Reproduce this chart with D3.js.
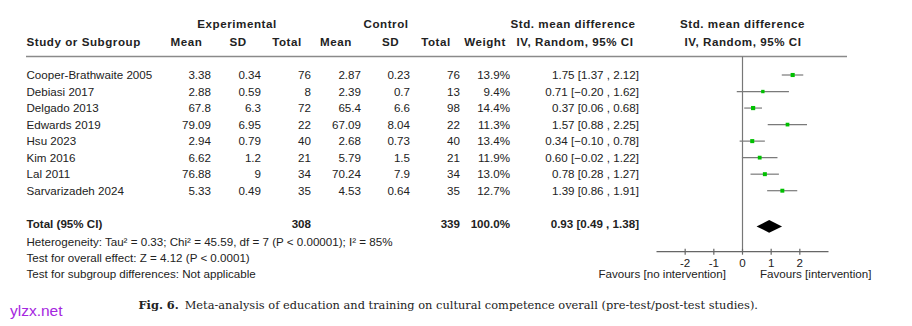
<!DOCTYPE html>
<html>
<head>
<meta charset="utf-8">
<script src="https://cdn.jsdelivr.net/npm/d3@7"></script>
<style>
html,body{margin:0;padding:0;background:#fff;}
svg{display:block;}
text{font-family:"Liberation Sans",Arial,sans-serif;font-size:11.6px;fill:#222;}
.b{font-weight:bold;}
.h{font-weight:bold;letter-spacing:0.55px;}
</style>
</head>
<body>
<svg id="c" width="912" height="326"></svg>
<script>
const studies = ["Cooper-Brathwaite 2005","Debiasi 2017","Delgado 2013","Edwards 2019","Hsu 2023","Kim 2016","Lal 2011","Sarvarizadeh 2024"];
const expMean = ["3.38","2.88","67.8","79.09","2.94","6.62","76.88","5.33"];
const expSD   = ["0.34","0.59","6.3","6.95","0.79","1.2","9","0.49"];
const expN    = [76,8,72,22,40,21,34,35];
const ctlMean = ["2.87","2.39","65.4","67.09","2.68","5.79","70.24","4.53"];
const ctlSD   = ["0.23","0.7","6.6","8.04","0.73","1.5","7.9","0.64"];
const ctlN    = [76,13,98,22,40,21,34,35];
const weights = [13.9,9.4,14.4,11.3,13.4,11.9,13.0,12.7];
const smd     = [1.75,0.71,0.37,1.57,0.34,0.60,0.78,1.39];
const ciLo    = [1.37,-0.20,0.06,0.88,-0.10,-0.02,0.28,0.86];
const ciHi    = [2.12,1.62,0.68,2.25,0.78,1.22,1.27,1.91];
const total   = {expN:308, ctlN:339, weight:"100.0%", est:0.93, lo:0.49, hi:1.38};
const axisTicks = [-2,-1,0,1,2];
const axisDomain = [-3,3];
const footLines = [
  "Heterogeneity: Tau\u00B2 = 0.33; Chi\u00B2 = 45.59, df = 7 (P < 0.00001); I\u00B2 = 85%",
  "Test for overall effect: Z = 4.12 (P < 0.0001)",
  "Test for subgroup differences: Not applicable"
];
const favLeft = "Favours [no intervention]";
const favRight = "Favours [intervention]";
const captionBold = "Fig. 6.";
const captionText = "Meta-analysis of education and training on cultural competence overall (pre-test/post-test studies).";
const watermark = "ylzx.net";

const svg = d3.select("#c");
const x = d3.scaleLinear().domain(axisDomain).range([656.5, 828.5]);
const y = d3.scaleLinear().domain([0, 7]).range([75, 190.7]);
const f2 = d3.format(".2f");
const fmtCI = (e,l,h) => `${f2(e)} [${f2(l)} , ${f2(h)}]`;

function txt(t, xx, yy, anchor, cls){
  return svg.append("text").attr("x", xx).attr("y", yy).attr("dy","0.35em")
    .attr("text-anchor", anchor || "start").attr("class", cls || null).text(t);
}

// headers
txt("Experimental", 237, 24.3, "middle", "h");
txt("Control", 386, 24.3, "middle", "h");
txt("Std. mean difference", 573, 24.3, "middle", "h");
txt("Std. mean difference", 742.5, 24.3, "middle", "h");
txt("Study or Subgroup", 26.5, 41.7, "start", "h");
[["Mean",186.5],["SD",238],["Total",287],["Mean",336],["SD",390.5],["Total",436],["Weight",485]]
  .forEach(d => txt(d[0], d[1], 41.7, "middle", "h"));
txt("IV, Random, 95% CI", 575, 41.7, "middle", "h");
txt("IV, Random, 95% CI", 743, 41.7, "middle", "h");

// header rule
svg.append("line").attr("x1", 26).attr("x2", 847).attr("y1", 56.5).attr("y2", 56.5)
  .attr("stroke", "#8a8a8a").attr("stroke-width", 1.6);

// zero line
svg.append("line").attr("x1", x(0)).attr("x2", x(0)).attr("y1", 56.5).attr("y2", 251.7)
  .attr("stroke", "#777").attr("stroke-width", 1.2);

// study rows
studies.forEach((s, i) => {
  const yy = y(i);
  txt(s, 26.5, yy);
  txt(expMean[i], 211, yy, "end");
  txt(expSD[i], 261, yy, "end");
  txt(expN[i], 311, yy, "end");
  txt(ctlMean[i], 361, yy, "end");
  txt(ctlSD[i], 410, yy, "end");
  txt(ctlN[i], 460, yy, "end");
  txt(weights[i].toFixed(1) + "%", 510, yy, "end");
  txt(fmtCI(smd[i], ciLo[i], ciHi[i]), 639, yy, "end");
  svg.append("line").attr("x1", x(ciLo[i])).attr("x2", x(ciHi[i]))
    .attr("y1", yy).attr("y2", yy).attr("stroke", "#7a7a7a").attr("stroke-width", 1.2);
  const sz = Math.sqrt(weights[i]) * 1.1;
  svg.append("rect").attr("x", x(smd[i]) - sz/2).attr("y", yy - sz/2)
    .attr("width", sz).attr("height", sz).attr("fill", "#00c000");
});

// total row
const ty = 224.3;
txt("Total (95% CI)", 26.5, ty, "start", "b");
txt(total.expN, 311, ty, "end", "b");
txt(total.ctlN, 460, ty, "end", "b");
txt(total.weight, 510, ty, "end", "b");
txt(fmtCI(total.est, total.lo, total.hi), 639, ty, "end", "b");
const dy0 = 226.4;
svg.append("path")
  .attr("d", `M${x(total.lo)},${dy0} L${x(total.est)},${dy0-6.3} L${x(total.hi)},${dy0} L${x(total.est)},${dy0+6.3} Z`)
  .attr("fill", "#000");

// footnotes
footLines.forEach((t, i) => txt(t, 26.5, 241.7 + i*16.3));

// axis
const ay = 251.7;
svg.append("line").attr("x1", x(axisDomain[0])).attr("x2", x(axisDomain[1]))
  .attr("y1", ay).attr("y2", ay).attr("stroke", "#666").attr("stroke-width", 1.2);
axisTicks.forEach(t => {
  svg.append("line").attr("x1", x(t)).attr("x2", x(t)).attr("y1", ay - 3).attr("y2", ay + 3)
    .attr("stroke", "#666").attr("stroke-width", 1.2);
  txt(t < 0 ? "-" + Math.abs(t) : String(t), x(t), 262.5, "middle");
});
txt(favLeft, x(0) - 16.5, 274.3, "end");
txt(favRight, x(0) + 17.5, 274.3, "start");

// caption
const cap = svg.append("text").attr("x", 138.5).attr("y", 305).attr("dy", "0.35em")
  .style("font-family", "'DejaVu Serif','Liberation Serif',serif").style("font-size", "11.4px");
cap.append("tspan").attr("font-weight", "bold").text(captionBold);
cap.append("tspan").attr("dx", 6).text(captionText);

// watermark
svg.append("text").attr("x", 10).attr("y", 311).attr("dy", "0.35em")
  .style("font-size", "15.5px").style("fill", "#a526e0").text(watermark);
</script>
</body>
</html>
